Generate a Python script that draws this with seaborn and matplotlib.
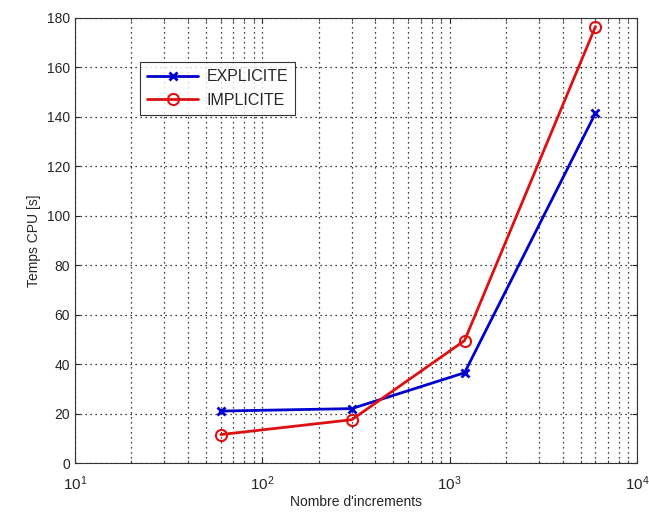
import pandas as pd
import matplotlib.pyplot as plt
import seaborn as sns

increments = [60, 300, 1200, 6000]
explicite = [21, 22, 36.5, 141.5]
implicite = [11.5, 17.5, 49.5, 176.5]

sns.set_style("ticks")
plt.rcParams['font.family'] = ['Liberation Sans', 'DejaVu Sans']

fig = plt.figure(figsize=(6.49, 5.12), dpi=100)
ax = fig.add_axes([0.1156, 0.0957, 0.866, 0.8693])

sns.lineplot(x=increments, y=explicite, color='#0000cc', marker='x',
             linewidth=2, markersize=6, markeredgewidth=2,
             markeredgecolor='#0000cc',
             label='EXPLICITE', ax=ax)
sns.lineplot(x=increments, y=implicite, color='#dd1111', marker='o',
             linewidth=2, markersize=8, markeredgewidth=1.5,
             markerfacecolor='none', markeredgecolor='#dd1111',
             label='IMPLICITE', ax=ax)

ax.set_xscale('log')
ax.set_xlim(10, 1e4)
ax.set_ylim(0, 180)
ax.set_yticks(range(0, 181, 20))
ax.grid(True, which='major', color='black', linestyle=(0, (1, 3)), linewidth=0.9)
ax.grid(True, which='minor', axis='x', color='black', linestyle=(0, (1, 3)), linewidth=0.9)
ax.tick_params(which='both', direction='in', top=True, right=True, labelsize=10)
ax.tick_params(axis='x', which='major', pad=8, labelsize=11)
for s in ax.spines.values():
    s.set_linewidth(0.8)
    s.set_color('#333333')

ax.set_xlabel("Nombre d'increments", fontsize=10, labelpad=2)
ax.set_ylabel("Temps CPU [s]", fontsize=10)

leg = ax.legend(loc='upper left', bbox_to_anchor=(0.1157, 0.901), fontsize=11.5,
                frameon=True, fancybox=False, edgecolor='black',
                handlelength=3.2, borderpad=0.45, borderaxespad=0,
                labelspacing=0.55, handletextpad=0.5)
leg.get_frame().set_linewidth(0.8)

fig.savefig('out.png', dpi=100)
